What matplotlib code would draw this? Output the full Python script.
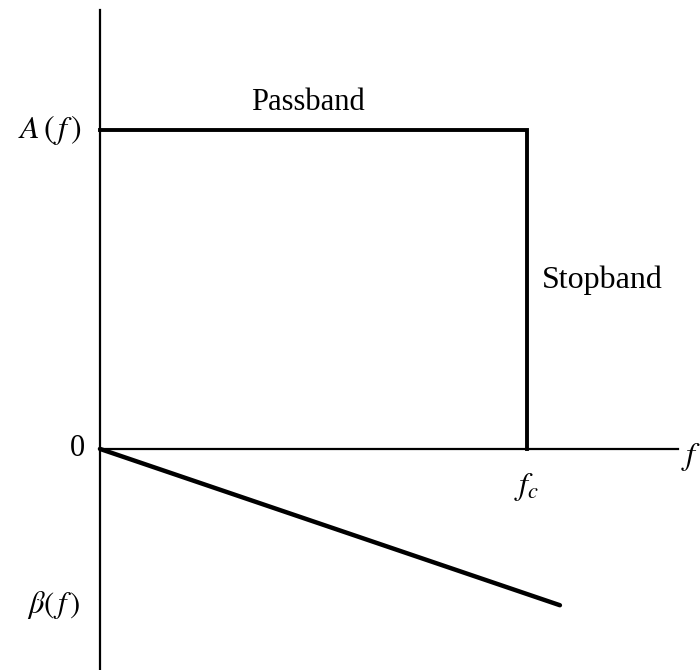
import matplotlib
matplotlib.use("Agg")
import matplotlib.pyplot as plt

plt.rcParams["mathtext.fontset"] = "stix"
plt.rcParams["font.family"] = ["Liberation Serif", "DejaVu Serif"]

# dados (frequencia normalizada pela frequencia de corte)
fc = 1.0
freq_amp = [0.0, fc, fc]
amplitude = [1.0, 1.0, 0.0]
freq_fase = [0.0, 1.077]
fase = [0.0, -0.49]

fig = plt.figure(figsize=(7, 6.7), dpi=100)
ax = fig.add_axes([0, 0, 1, 1])
ax.set_xlim(-0.234, 1.405)
ax.set_ylim(-0.693, 1.407)
ax.axis("off")

# eixos
ax.plot([0, 0], [-0.693, 1.376], color="black", lw=1.6)
ax.plot([0, 1.354], [0, 0], color="black", lw=1.6)

# amplitude e fase
ax.plot(freq_amp, amplitude, color="black", lw=2.8, solid_joinstyle="miter")
ax.plot(freq_fase, fase, color="black", lw=3.2, solid_capstyle="round")

# textos
ax.text(-0.118, 1.0, r"$A\,(\,f\,)$", fontsize=23, ha="center", va="center")
ax.text(-0.035, 0.0, "0", fontsize=22, ha="right", va="center")
ax.text(1.36, -0.025, r"$f$", fontsize=23, ha="left", va="center")
ax.text(fc, -0.07, r"$f_c$", fontsize=23, ha="center", va="top")
ax.text(-0.108, -0.49, r"$\beta(\,f\,)$", fontsize=22, ha="center", va="center")
ax.text(0.487, 1.085, "Passband", fontsize=22, ha="center", va="center")
ax.text(1.035, 0.53, "Stopband", fontsize=23, ha="left", va="center")

plt.savefig("out.png", dpi=100)
